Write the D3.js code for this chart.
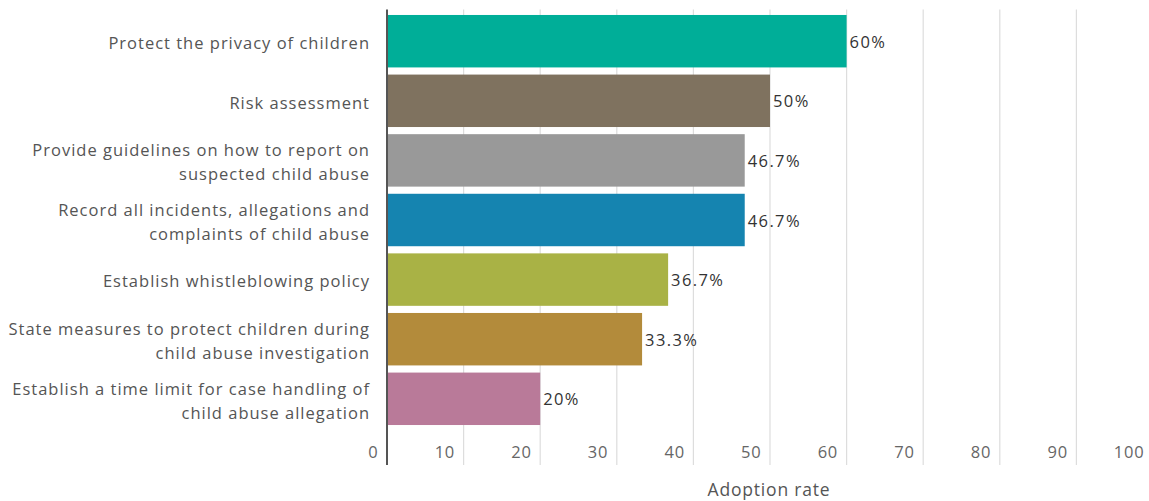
<!DOCTYPE html>
<html>
<head>
<meta charset="utf-8">
<script src="https://cdn.jsdelivr.net/npm/d3@7"></script>
<style>
  html, body { margin: 0; padding: 0; background: #fff; }
  svg { display: block; font-family: "Open Sans", "DejaVu Sans", sans-serif; }
</style>
</head>
<body>
<svg id="chart" width="1149" height="501"></svg>
<script>
// Child-protection measures and how often they were adopted
const categories = [
  ["Protect the privacy of children"],
  ["Risk assessment"],
  ["Provide guidelines on how to report on", "suspected child abuse"],
  ["Record all incidents, allegations and", "complaints of child abuse"],
  ["Establish whistleblowing policy"],
  ["State measures to protect children during", "child abuse investigation"],
  ["Establish a time limit for case handling of", "child abuse allegation"]
];
const adoptionRates = [60, 50, 46.7, 46.7, 36.7, 33.3, 20];
const valueLabels = ["60%", "50%", "46.7%", "46.7%", "36.7%", "33.3%", "20%"];
const barColors = ["#00ae98", "#7f725f", "#999999", "#1584b0", "#a9b245", "#b38b3b", "#b97a99"];
const xTicks = [0, 10, 20, 30, 40, 50, 60, 70, 80, 90, 100];
const xTitle = "Adoption rate";

const svg = d3.select("#chart");

const x = d3.scaleLinear().domain([0, 100]).range([387, 1153]);
const y = d3.scaleBand()
  .domain(d3.range(categories.length))
  .range([11.4, 428.6])
  .paddingInner(0.12)
  .paddingOuter(0.06);

const gridTop = 9.5, gridBottom = 465;

// vertical gridlines
svg.append("g")
  .selectAll("line")
  .data(xTicks.filter(d => d > 0))
  .join("line")
  .attr("x1", d => x(d)).attr("x2", d => x(d))
  .attr("y1", gridTop).attr("y2", gridBottom)
  .attr("stroke", "#dddddd")
  .attr("stroke-width", 1.2);

// bars
svg.append("g")
  .selectAll("rect")
  .data(adoptionRates)
  .join("rect")
  .attr("x", x(0))
  .attr("y", (d, i) => y(i))
  .attr("width", d => x(d) - x(0))
  .attr("height", y.bandwidth())
  .attr("fill", (d, i) => barColors[i]);

// value labels
svg.append("g")
  .selectAll("text")
  .data(adoptionRates)
  .join("text")
  .attr("x", d => x(d) + 3)
  .attr("y", (d, i) => y(i) + y.bandwidth() / 2)
  .attr("dy", "0.4em")
  .attr("font-size", 16.5)
  .attr("letter-spacing", 1.4)
  .attr("fill", "#333")
  .text((d, i) => valueLabels[i]);

// category labels
const catG = svg.append("g")
  .selectAll("text")
  .data(categories)
  .join("text")
  .attr("text-anchor", "end")
  .attr("font-size", 16.5)
  .attr("letter-spacing", 1.0)
  .attr("fill", "#555");
catG.each(function(lines, i) {
  const cy = y(i) + y.bandwidth() / 2;
  const lh = 24;
  const t = d3.select(this);
  lines.forEach((ln, j) => {
    t.append("tspan")
      .attr("x", 370)
      .attr("y", cy + 2 + (j - (lines.length - 1) / 2) * lh)
      .attr("dy", "0.35em")
      .text(ln);
  });
});

// x-axis tick labels
const xAxis = d3.axisBottom(x)
  .tickValues(xTicks)
  .tickSize(0)
  .tickFormat(d3.format("d"));
const axG = svg.append("g")
  .attr("transform", `translate(0, ${gridBottom})`)
  .call(xAxis);
axG.select(".domain").remove();
axG.selectAll("text")
  .attr("text-anchor", "end")
  .attr("x", -9)
  .attr("y", -13)
  .attr("dy", "0.35em")
  .attr("font-size", 16.5)
  .attr("letter-spacing", 0.8)
  .attr("font-family", "Open Sans, DejaVu Sans, sans-serif")
  .attr("fill", "#666");

// baseline axis
svg.append("line")
  .attr("x1", x(0)).attr("x2", x(0))
  .attr("y1", gridTop).attr("y2", gridBottom)
  .attr("stroke", "#555")
  .attr("stroke-width", 2);

// axis title
svg.append("text")
  .attr("x", 769)
  .attr("y", 490)
  .attr("dy", "0.35em")
  .attr("text-anchor", "middle")
  .attr("font-size", 17.5)
  .attr("letter-spacing", 0.8)
  .attr("fill", "#555")
  .text(xTitle);
</script>
</body>
</html>
